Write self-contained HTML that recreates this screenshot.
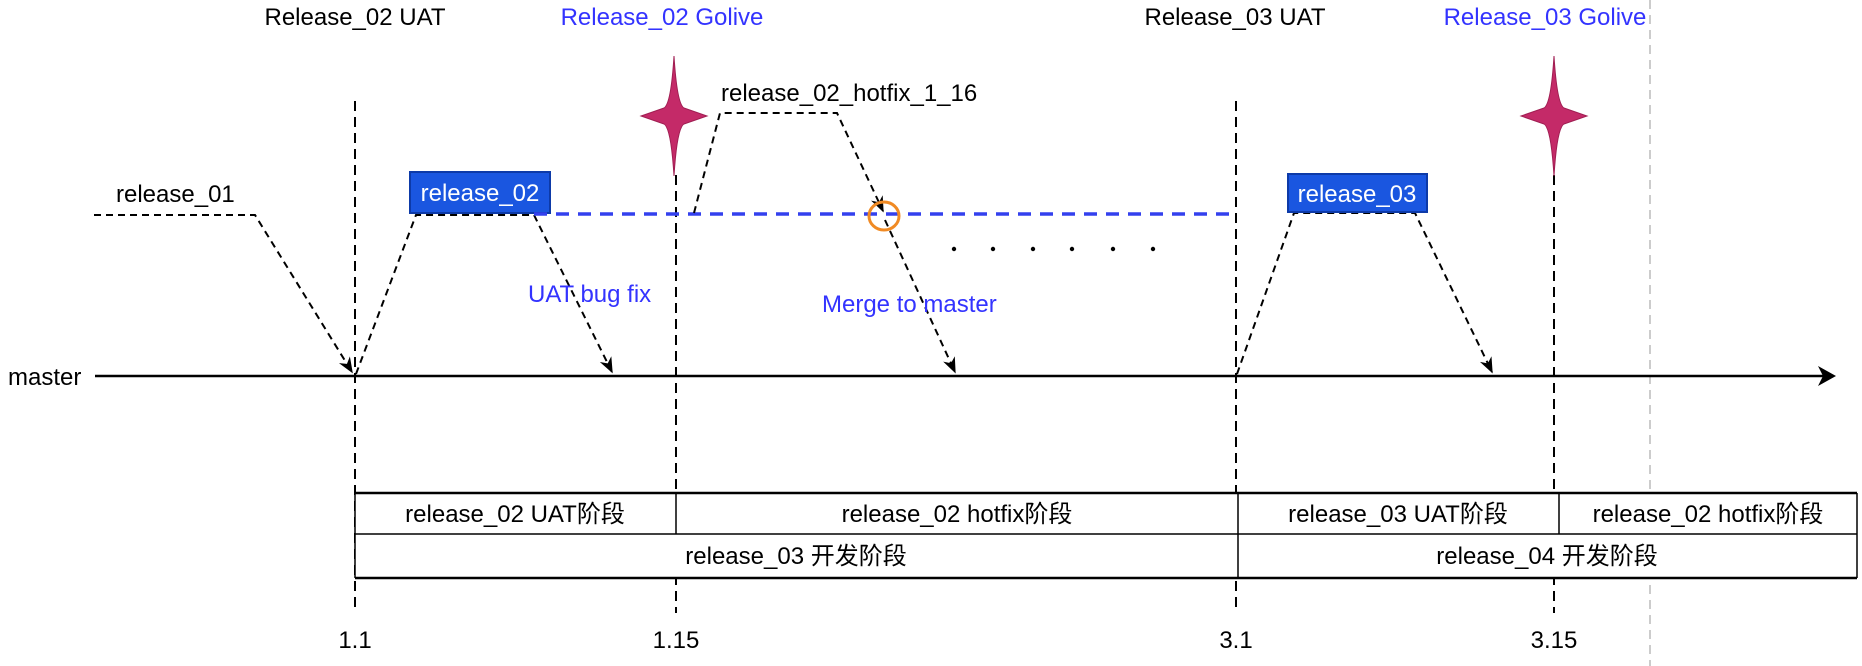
<!DOCTYPE html>
<html><head><meta charset="utf-8"><style>
html,body{margin:0;padding:0;background:#fff}
svg{display:block}
text{font-family:"Liberation Sans","Noto Sans CJK SC",sans-serif;font-size:24px}
</style></head><body>
<svg width="1862" height="666" viewBox="0 0 1862 666">
<defs>
<marker id="ah" viewBox="0 0 10 10" refX="9" refY="5" markerWidth="16" markerHeight="16" orient="auto" markerUnits="userSpaceOnUse">
<path d="M0,1 L10,5 L0,9 L3,5 z" fill="#000"/></marker>
</defs>
<line x1="1650" y1="0" x2="1650" y2="666" stroke="#bbb" stroke-width="1.5" stroke-dasharray="9,6"/>
<g stroke="#000" stroke-width="2" stroke-dasharray="10,6" fill="none">
<line x1="355" y1="101" x2="355" y2="613"/>
<line x1="676" y1="175" x2="676" y2="613"/>
<line x1="1236" y1="101" x2="1236" y2="613"/>
<line x1="1554" y1="175" x2="1554" y2="613"/>
</g>
<text x="355" y="25" text-anchor="middle" fill="#000">Release_02 UAT</text>
<text x="662" y="25" text-anchor="middle" fill="#3333ff">Release_02 Golive</text>
<text x="1235" y="25" text-anchor="middle" fill="#000">Release_03 UAT</text>
<text x="1545" y="25" text-anchor="middle" fill="#3333ff">Release_03 Golive</text>
<path d="M674,56 Q677,104 684,108 L707,116 L684,124 Q677,128 674,176 Q671,128 664,124 L641,116 L664,108 Q671,104 674,56 Z" fill="#c42a68" stroke="#a01e52" stroke-width="1"/>
<path d="M1554,56 Q1557,104 1564,108 L1587,116 L1564,124 Q1557,128 1554,176 Q1551,128 1544,124 L1521,116 L1544,108 Q1551,104 1554,56 Z" fill="#c42a68" stroke="#a01e52" stroke-width="1"/>
<line x1="95" y1="376" x2="1826" y2="376" stroke="#000" stroke-width="2.5"/>
<path d="M1836,376 l-18,-10 l5,10 l-5,10 z" fill="#000"/>
<text x="8" y="385" fill="#000">master</text>
<text x="116" y="202" fill="#000">release_01</text>
<polyline points="94,215 255,215 352,372" fill="none" stroke="#000" stroke-width="2" stroke-dasharray="7,5" marker-end="url(#ah)"/>
<polyline points="356,374 416,215 534,215 612,372" fill="none" stroke="#000" stroke-width="2" stroke-dasharray="7,5" marker-end="url(#ah)"/>
<rect x="410" y="172" width="140" height="41" fill="#1a56e0" stroke="#0d3aa8" stroke-width="2"/>
<text x="480" y="201" text-anchor="middle" fill="#fff">release_02</text>
<line x1="534" y1="214" x2="1237" y2="214" stroke="#3340ee" stroke-width="3.5" stroke-dasharray="13,9"/>
<text x="721" y="101" fill="#000">release_02_hotfix_1_16</text>
<polyline points="694,213 720,113 837,113 883,211" fill="none" stroke="#000" stroke-width="2" stroke-dasharray="7,5" marker-end="url(#ah)"/>
<line x1="885" y1="220" x2="955" y2="372" stroke="#000" stroke-width="2" stroke-dasharray="7,5" marker-end="url(#ah)"/>
<ellipse cx="884" cy="216" rx="15" ry="14" fill="none" stroke="#f08a24" stroke-width="3"/>
<text x="528" y="302" fill="#3333ff">UAT bug fix</text>
<text x="822" y="312" fill="#3333ff">Merge to master</text>
<g fill="#000">
<circle cx="954" cy="249" r="2.2"/><circle cx="993" cy="249" r="2.2"/><circle cx="1033" cy="249" r="2.2"/><circle cx="1072" cy="249" r="2.2"/><circle cx="1113" cy="249" r="2.2"/><circle cx="1153" cy="249" r="2.2"/>
</g>
<polyline points="1237,374 1294,213 1415,213 1492,372" fill="none" stroke="#000" stroke-width="2" stroke-dasharray="7,5" marker-end="url(#ah)"/>
<rect x="1288" y="174" width="139" height="38" fill="#1a56e0" stroke="#0d3aa8" stroke-width="2"/>
<text x="1357" y="202" text-anchor="middle" fill="#fff">release_03</text>
<g>
<rect x="355" y="493" width="1502" height="85" fill="#fff" stroke="none"/>
<line x1="355" y1="493" x2="1857" y2="493" stroke="#000" stroke-width="2.5"/>
<line x1="355" y1="578" x2="1857" y2="578" stroke="#000" stroke-width="2.5"/>
<line x1="355" y1="534" x2="1857" y2="534" stroke="#000" stroke-width="1.5"/>
<line x1="355" y1="493" x2="355" y2="578" stroke="#000" stroke-width="1.5"/>
<line x1="1857" y1="493" x2="1857" y2="578" stroke="#000" stroke-width="1.5"/>
<line x1="676" y1="493" x2="676" y2="534" stroke="#000" stroke-width="1.5"/>
<line x1="1238" y1="493" x2="1238" y2="578" stroke="#000" stroke-width="1.5"/>
<line x1="1559" y1="493" x2="1559" y2="534" stroke="#000" stroke-width="1.5"/>
<text x="515" y="522" text-anchor="middle">release_02 UAT阶段</text>
<text x="957" y="522" text-anchor="middle">release_02 hotfix阶段</text>
<text x="1398" y="522" text-anchor="middle">release_03 UAT阶段</text>
<text x="1708" y="522" text-anchor="middle">release_02 hotfix阶段</text>
<text x="796" y="564" text-anchor="middle">release_03 开发阶段</text>
<text x="1547" y="564" text-anchor="middle">release_04 开发阶段</text>
</g>
<text x="355" y="648" text-anchor="middle">1.1</text>
<text x="676" y="648" text-anchor="middle">1.15</text>
<text x="1236" y="648" text-anchor="middle">3.1</text>
<text x="1554" y="648" text-anchor="middle">3.15</text>
</svg>
</body></html>
